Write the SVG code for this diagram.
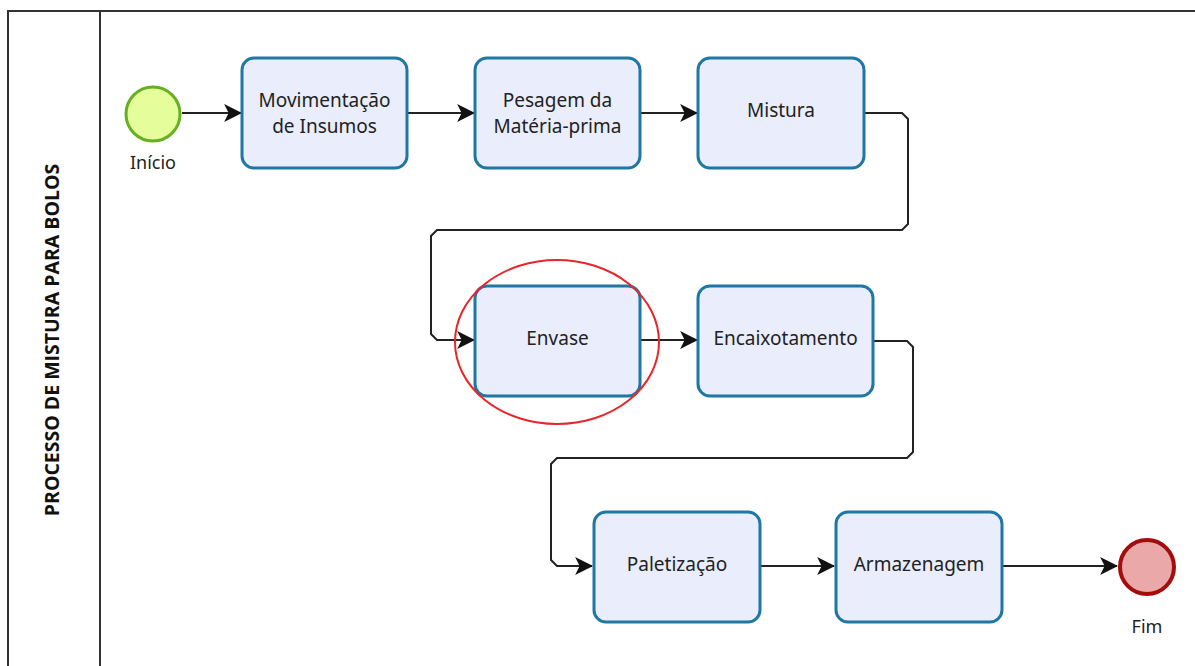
<svg xmlns="http://www.w3.org/2000/svg" width="1195" height="666" viewBox="0 0 1195 666">
<defs>
<style>
.pool{fill:none;stroke:#333;stroke-width:2}
.task{fill:#e9edfc;stroke:#1f77a4;stroke-width:3}
.lbl{font-family:"Noto Sans","Open Sans",sans-serif;font-size:19px;fill:#222;text-anchor:middle}
.ev{font-family:"Noto Sans","Open Sans",sans-serif;font-size:18px;fill:#222;text-anchor:middle}
.conn{fill:none;stroke:#222;stroke-width:2}
.title{font-family:"Open Sans","Noto Sans",sans-serif;font-size:19.5px;font-weight:bold;fill:#111;text-anchor:middle}
</style>
<marker id="arr" viewBox="0 0 16 16" refX="15" refY="8" markerWidth="18" markerHeight="18" markerUnits="userSpaceOnUse" orient="auto">
<path d="M0,0 L16,8 L0,16 L4,8 Z" fill="#111"/>
</marker>
</defs>
<rect width="1195" height="666" fill="#fff"/>
<g id="pool">
<path class="pool" d="M1197,11 L8,11 L8,668"/>
<line class="pool" x1="100" y1="11" x2="100" y2="668"/>
<text class="title" transform="translate(59,340) rotate(-90)">PROCESSO DE MISTURA PARA BOLOS</text>
</g>
<g id="connectors">
<line class="conn" x1="182" y1="113" x2="241" y2="113" marker-end="url(#arr)"/>
<line class="conn" x1="407" y1="113" x2="474" y2="113" marker-end="url(#arr)"/>
<line class="conn" x1="640" y1="113" x2="697" y2="113" marker-end="url(#arr)"/>
<path class="conn" d="M864,113 L902,113 L908,119 L908,224 L902,230 L437,230 L431,236 L431,334 L437,340 L474,340" marker-end="url(#arr)"/>
<line class="conn" x1="640" y1="340" x2="697" y2="340" marker-end="url(#arr)"/>
<path class="conn" d="M873,341 L907,341 L913,347 L913,452 L907,458 L557,458 L551,464 L551,560 L557,566 L592,566" marker-end="url(#arr)"/>
<line class="conn" x1="760" y1="566" x2="834" y2="566" marker-end="url(#arr)"/>
<line class="conn" x1="1002" y1="566" x2="1117" y2="566" marker-end="url(#arr)"/>
</g>
<g id="inicio">
<circle cx="153" cy="114" r="27" fill="#e6fd9c" stroke="#66b022" stroke-width="3"/>
<text class="ev" x="153" y="169">Início</text>
</g>
<g id="movimentacao">
<rect class="task" x="242" y="58" width="165" height="110" rx="12"/>
<text class="lbl" x="324.5" y="107">Movimentação</text>
<text class="lbl" x="324.5" y="133">de Insumos</text>
</g>
<g id="pesagem">
<rect class="task" x="475" y="58" width="165" height="110" rx="12"/>
<text class="lbl" x="557.5" y="107">Pesagem da</text>
<text class="lbl" x="557.5" y="133">Matéria-prima</text>
</g>
<g id="mistura">
<rect class="task" x="698" y="58" width="166" height="110" rx="12"/>
<text class="lbl" x="781" y="117">Mistura</text>
</g>
<g id="envase">
<rect class="task" x="475" y="286" width="165" height="110" rx="12"/>
<text class="lbl" x="557.5" y="345">Envase</text>
<ellipse cx="557" cy="342" rx="102" ry="82" fill="none" stroke="#e8262a" stroke-width="2"/>
</g>
<g id="encaixotamento">
<rect class="task" x="698" y="286" width="175" height="110" rx="12"/>
<text class="lbl" x="785.5" y="345">Encaixotamento</text>
</g>
<g id="paletizacao">
<rect class="task" x="594" y="512" width="166" height="110" rx="12"/>
<text class="lbl" x="677" y="571">Paletização</text>
</g>
<g id="armazenagem">
<rect class="task" x="836" y="512" width="166" height="110" rx="12"/>
<text class="lbl" x="919" y="571">Armazenagem</text>
</g>
<g id="fim">
<circle cx="1147" cy="567" r="27" fill="#eba8a8" stroke="#a50d0d" stroke-width="4"/>
<text class="ev" x="1147" y="633">Fim</text>
</g>
</svg>
